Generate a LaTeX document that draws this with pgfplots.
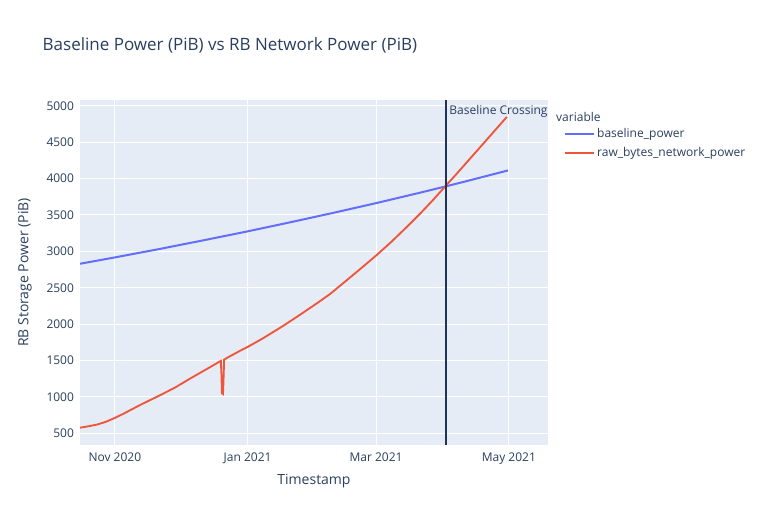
\documentclass[border=0pt]{standalone}
\usepackage{fontspec}
\setmainfont{Open Sans}
\usepackage{pgfplots}
\pgfplotsset{compat=1.18}
\definecolor{plotbg}{HTML}{E5ECF6}
\definecolor{plotfont}{HTML}{2A3F5F}
\definecolor{pxblue}{HTML}{636EFA}
\definecolor{pxred}{HTML}{EF553B}
\definecolor{vline}{RGB}{30,50,90}

\begin{document}
\begin{tikzpicture}
% page = 764 x 525 px at 0.75pt per px
\useasboundingbox[fill=white] (0,0) rectangle (573pt,393.75pt);
\node[anchor=west, font=\fontsize{12.75}{15}\selectfont, text=plotfont] at (28.5pt,360pt)
    {Baseline Power (PiB) vs RB Network Power (PiB)};

\begin{axis}[
    scale only axis,
    width=351pt, height=258.75pt,
    at={(60pt,60pt)}, anchor=south west,
    xmin=-16, xmax=199,
    ymin=340, ymax=5080,
    axis background/.style={fill=plotbg},
    axis line style={draw=none},
    major tick length=0pt,
    grid=major,
    grid style={white, line width=0.75pt},
    xtick={0,61,120,181},
    xticklabels={Nov 2020, Jan 2021, Mar 2021, May 2021},
    ytick={500,1000,...,5000},
    /pgf/number format/1000 sep={},
    /pgf/number format/assume math mode=true,
    tick label style={font=\fontsize{9}{11}\selectfont, text=plotfont},
    xticklabel style={yshift=-2pt},
    yticklabel style={xshift=-1pt},
    xlabel={Timestamp},
    ylabel={RB Storage Power (PiB)},
    label style={font=\fontsize{10.5}{12}\selectfont, text=plotfont},
    xlabel style={at={(axis description cs:0.5,-0.104)}, anchor=center},
    ylabel style={at={(axis description cs:-0.1175,0.5)}, anchor=center},
    legend style={draw=none, fill=none, at={(1.026,0.935)}, anchor=north west,
        font=\fontsize{9}{11}\selectfont, text=plotfont,
        row sep=2pt, cells={anchor=west}},
    legend image code/.code={\draw[#1] (0cm,0cm) -- (0.74cm,0cm);},
    clip mode=individual,
]

% days since 1 Nov 2020
\addplot[color=pxblue, line width=1.5pt] coordinates {
    (-16,2830) (0,2917) (20,3030) (40,3148) (60,3269) (80,3396)
    (100,3527) (120,3663) (140,3805) (152,3893) (160,3953) (180.6,4112)
};
\addlegendentry{baseline\_power}

\addplot[color=pxred, line width=1.4pt] coordinates {
    (-16.1,577) (-12,598) (-8,622) (-4,660) (0,712) (4,770) (8,833) (12.3,900)
    (20,1012) (27.6,1128) (35,1260) (42.9,1395) (48.7,1496)
    (49.0,1300) (49.2,1050) (49.7,1040) (50.0,1300) (50.2,1512)
    (52,1545) (57.5,1634) (61.3,1692) (68,1805) (77.4,1978) (85,2128)
    (93,2290) (98.9,2415) (108,2640) (114,2790) (120.3,2950) (127,3130)
    (134.1,3335) (140.2,3517) (146,3700) (152.2,3907) (157,4065) (163.2,4275)
    (170,4505) (175,4675) (180.1,4848)
};
\addlegendentry{raw\_bytes\_network\_power}

\addplot[color=vline, line width=1.5pt, forget plot] coordinates {
    (152,340) (152,5080)
};

\node[anchor=west, font=\fontsize{9}{11}\selectfont, text=plotfont, inner sep=1pt]
    at (rel axis cs:0.786,0.968) {Baseline Crossing};
\node[anchor=west, font=\fontsize{9}{11}\selectfont, text=plotfont, inner sep=0pt]
    at (rel axis cs:1.017,0.95) {variable};
\end{axis}
\end{tikzpicture}
\end{document}
